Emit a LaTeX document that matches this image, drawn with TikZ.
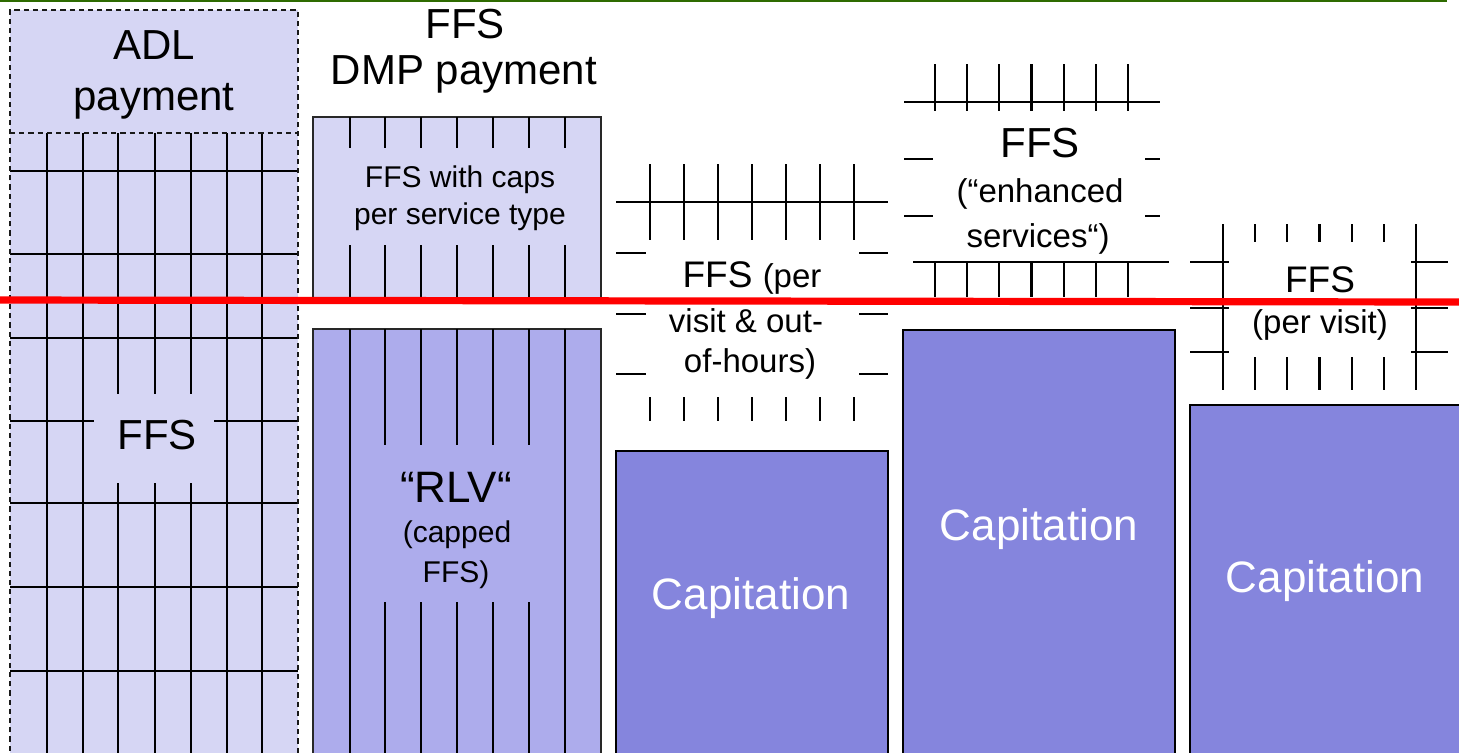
\documentclass[tikz,border=0pt]{standalone}
\usepackage{fontspec}
\setmainfont{Liberation Sans}
\definecolor{paleblue}{RGB}{214,214,244}
\definecolor{midblue}{RGB}{173,172,236}
\definecolor{capblue}{RGB}{133,133,221}
\definecolor{rulegreen}{RGB}{46,107,0}
\newcommand{\fsz}[1]{\fontsize{#1}{#1}\selectfont}
\tikzset{
  gline/.style={line width=1.1pt, black},
  boxline/.style={draw={rgb,255:red,40;green,40;blue,40}, line width=0.8pt},
  capbox/.style={fill=capblue, draw=black, line width=1pt},
  dashbox/.style={dash pattern=on 2.6pt off 2pt, line width=1pt, black!90},
  txt/.style={anchor=base, inner sep=0pt, text=black},
  captxt/.style={anchor=base, inner sep=0pt, text=white, font=\fsz{22}},
}
\begin{document}
\begin{tikzpicture}[x=0.5pt,y=-0.5pt]
\useasboundingbox (0,0) rectangle (1459,752);

% rule at the top of the slide
\draw[rulegreen, line width=1pt] (0,1) -- (1447,1);

% ---------- column 1: ADL payment over FFS grid ----------
\fill[paleblue] (10,10) rectangle (298,760);
\foreach \x in {47,83,118,155,191,227,262}
  \draw[gline] (\x,133) -- (\x,760);
\foreach \y in {171,254,338,421,503,587,671}
  \draw[gline] (10,\y) -- (298,\y);
\fill[paleblue] (94,394) rectangle (214,483);
\draw[dashbox] (10,760) -- (10,10) -- (298,10) -- (298,760);
\draw[dashbox] (10,133) -- (298,133);
\node[txt, font=\fsz{21}] (adl) at (154,59) {ADL};
\node[txt, font=\fsz{21}] (adlpay) at (154,110) {payment};
\node[txt, font=\fsz{21}] (ffsone) at (157,449) {FFS};

% ---------- column 2: DMP payment and RLV ----------
\node[txt, font=\fsz{21}] (dmpffs) at (465,38) {FFS};
\node[txt, font=\fsz{21}] (dmppay) at (464,84) {DMP payment};
\draw[boxline, fill=paleblue] (313,117) rectangle (601,300);
\foreach \x in {350,385,421,457,493,529,565} {
  \draw[gline] (\x,117) -- (\x,148);
  \draw[gline] (\x,245) -- (\x,300);
}
\node[txt, font=\fsz{15}] (capsa) at (460,187) {FFS with caps};
\node[txt, font=\fsz{15}] (capsb) at (460,224) {per service type};

\draw[boxline, fill=midblue] (313,329) rectangle (601,760);
\foreach \x in {350,565}
  \draw[gline] (\x,329) -- (\x,760);
\foreach \x in {385,421,457,493,529} {
  \draw[gline] (\x,329) -- (\x,445);
  \draw[gline] (\x,602) -- (\x,760);
}
\node[txt, font=\fsz{22}] (rlv) at (456,502) {“RLV“};
\node[txt, font=\fsz{15}] (rlva) at (457,542) {(capped};
\node[txt, font=\fsz{15}] (rlvb) at (456,582) {FFS)};

% ---------- column 3: capitation with FFS per visit ----------
\draw[capbox] (616,451) rectangle (888,760);
\node[captxt] (capc) at (751,609) {Capitation};
\foreach \x in {650,684,718,752,786,820,854} {
  \draw[gline] (\x,164) -- (\x,240);
  \draw[gline] (\x,397) -- (\x,421);
}
\draw[gline] (616,202) -- (888,202);
\foreach \y in {253,314,374} {
  \draw[gline] (616,\y) -- (646,\y);
  \draw[gline] (859,\y) -- (888,\y);
}
\node[txt] (pva) at (752,287) {\fsz{18.5}FFS \fsz{16.5}(per};
\node[txt, font=\fsz{16.5}] (pvb) at (746,332) {visit \& out-};
\node[txt, font=\fsz{16.5}] (pvc) at (750,372) {of-hours)};

% ---------- column 4: capitation with enhanced services ----------
\draw[capbox] (903,330) rectangle (1175,760);
\node[captxt] (capd) at (1039,540) {Capitation};
\foreach \i in {0,...,6} {
  \pgfmathsetmacro{\xx}{935+32.17*\i}
  \draw[gline] (\xx,64) -- (\xx,111);
  \draw[gline] (\xx,262) -- (\xx,297);
}
\draw[gline] (904,102) -- (1160,102);
\draw[gline] (913,262) -- (1169,262);
\foreach \y in {159,216} {
  \draw[gline] (904,\y) -- (933,\y);
  \draw[gline] (1145,\y) -- (1160,\y);
}
\node[txt, font=\fsz{21}] (esa) at (1040,157) {FFS};
\node[txt, font=\fsz{16.5}] (esb) at (1040,202) {(“enhanced};
\node[txt, font=\fsz{16.5}] (esc) at (1038,247) {services“)};

% ---------- column 5: capitation with FFS per visit ----------
\draw[capbox] (1190,405) rectangle (1475,760);
\node[captxt] (cape) at (1325,592) {Capitation};
\foreach \x in {1223,1416}
  \draw[gline] (\x,224) -- (\x,390);
\foreach \i in {1,...,5} {
  \pgfmathsetmacro{\xx}{1223+32.17*\i}
  \draw[gline] (\xx,224) -- (\xx,242);
  \draw[gline] (\xx,357) -- (\xx,390);
}
\foreach \y in {262,308,352} {
  \draw[gline] (1190,\y) -- (1229,\y);
  \draw[gline] (1411,\y) -- (1448,\y);
}
\node[txt, font=\fsz{18.5}] (vsa) at (1320,292) {FFS};
\node[txt, font=\fsz{16.5}] (vsb) at (1320,333) {(per visit)};

% red threshold line across all columns
\draw[red, line width=3.6pt] (0,300) -- (1459,302);
\end{tikzpicture}
\end{document}
